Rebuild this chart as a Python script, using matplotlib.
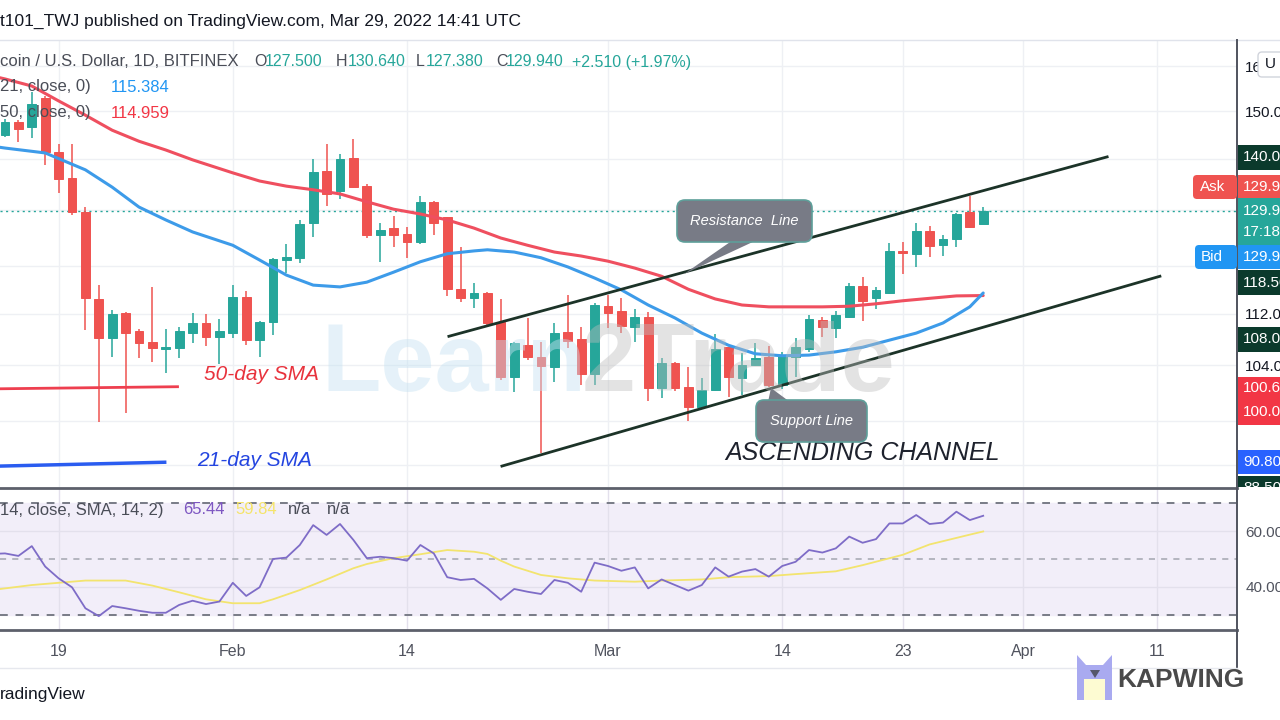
import numpy as np
import pandas as pd
import matplotlib
matplotlib.use("Agg")
import matplotlib.pyplot as plt
import matplotlib.dates as mdates
from matplotlib.patches import FancyBboxPatch, Rectangle, Polygon
from matplotlib.ticker import FixedLocator, FixedFormatter, NullLocator

plt.rcParams['font.family'] = ['Liberation Sans', 'DejaVu Sans']

# ---------------- data ----------------
candle_dates = pd.date_range('2022-01-15', '2022-03-29', freq='D')
opens = [144.9, 147.6, 146.6, 152.8, 141.4, 136.2, 129.7, 114.4, 108.1, 112.1,
         109.2, 107.5, 106.4, 106.6, 108.9, 110.5, 108.3, 108.9, 114.7, 107.8,
         110.7, 121.0, 121.4, 127.6, 137.6, 133.7, 140.2, 134.6, 125.4, 126.7,
         125.6, 124.2, 131.6, 128.7, 116.0, 114.5, 115.4, 110.7, 102.2, 107.0,
         105.2, 103.7, 109.1, 108.0, 102.7, 113.2, 112.4, 109.9, 111.5, 100.6,
         104.3, 100.8, 97.9, 100.3, 106.7, 102.1, 104.0, 105.2, 101.0, 105.2,
         106.4, 111.0, 109.7, 111.5, 116.5, 114.5, 115.4, 122.6, 122.1, 126.2,
         123.6, 124.7, 129.7, 127.5]
highs = [148.2, 148.1, 154.2, 153.2, 143.0, 143.0, 130.6, 116.7, 112.6, 112.3,
         109.5, 116.4, 109.5, 109.9, 112.1, 111.9, 111.1, 116.7, 115.7, 110.8,
         121.3, 123.8, 128.2, 140.0, 143.0, 141.0, 144.1, 135.0, 127.6, 128.9,
         126.9, 132.7, 131.7, 128.8, 123.3, 117.1, 115.5, 114.4, 107.5, 111.3,
         107.5, 110.5, 115.0, 109.9, 113.7, 115.0, 114.5, 112.7, 112.3, 105.1,
         104.5, 103.7, 102.1, 108.8, 106.8, 105.8, 107.4, 106.9, 106.0, 108.1,
         111.8, 111.5, 112.4, 117.1, 118.1, 116.4, 124.0, 124.2, 127.6, 127.1,
         125.4, 129.5, 132.7, 130.64]
lows = [144.5, 143.4, 144.3, 138.8, 133.3, 129.1, 109.4, 95.8, 105.2, 97.05,
        105.1, 104.5, 102.8, 105.1, 107.4, 106.9, 104.2, 108.1, 107.0, 105.2,
        108.6, 118.8, 120.5, 125.1, 130.8, 132.1, 134.3, 124.9, 120.7, 123.3,
        121.4, 123.8, 125.4, 114.9, 113.9, 112.9, 109.9, 101.8, 100.0, 104.8,
        91.6, 101.5, 106.6, 101.0, 101.0, 109.7, 108.9, 107.5, 98.7, 99.2,
        100.2, 95.9, 97.7, 100.2, 99.3, 99.6, 103.9, 100.8, 100.5, 102.2,
        106.0, 108.3, 108.1, 111.3, 110.8, 112.7, 115.2, 118.6, 119.8, 121.5,
        121.7, 123.3, 126.8, 127.38]
closes = [147.6, 146.2, 151.5, 141.4, 136.0, 129.7, 114.5, 108.1, 111.9, 108.9,
          107.4, 106.6, 106.7, 109.2, 110.5, 108.3, 109.2, 114.7, 107.8, 110.7,
          121.2, 121.5, 127.4, 137.4, 133.1, 140.0, 134.4, 125.4, 126.3, 125.4,
          124.2, 131.6, 127.6, 116.0, 114.5, 115.4, 110.5, 102.2, 107.4, 105.2,
          103.9, 108.9, 107.7, 102.7, 113.4, 112.1, 110.0, 111.5, 100.6, 104.3,
          100.6, 97.9, 100.3, 106.4, 102.2, 104.0, 105.1, 101.0, 105.5, 106.7,
          111.1, 109.9, 111.8, 116.5, 114.1, 115.9, 122.6, 122.2, 126.2, 123.5,
          124.7, 129.3, 126.9, 129.94]

sma21_dates = pd.to_datetime([
    '2022-01-14', '2022-01-15', '2022-01-18', '2022-01-21', '2022-01-23', '2022-01-25',
    '2022-01-27', '2022-01-29', '2022-02-01', '2022-02-03', '2022-02-05', '2022-02-07',
    '2022-02-09', '2022-02-11', '2022-02-13', '2022-02-15', '2022-02-17', '2022-02-19',
    '2022-02-20', '2022-02-22', '2022-02-24', '2022-02-26', '2022-02-28', '2022-03-02',
    '2022-03-04', '2022-03-06', '2022-03-08', '2022-03-10', '2022-03-12', '2022-03-14',
    '2022-03-16', '2022-03-18', '2022-03-20', '2022-03-22', '2022-03-24', '2022-03-26',
    '2022-03-28', '2022-03-29'])
sma21_vals = [142.6, 142.2, 141.2, 137.8, 134.4, 130.6, 128.2, 126.0, 123.6, 121.0,
              118.4, 116.7, 116.4, 117.2, 118.9, 120.7, 122.1, 122.6, 122.8, 122.4,
              121.4, 119.8, 117.9, 115.9, 113.4, 111.3, 108.9, 107.0, 105.7, 105.4,
              105.5, 106.0, 106.7, 107.8, 108.9, 110.5, 113.1, 115.384]

sma50_dates = pd.to_datetime([
    '2022-01-14', '2022-01-15', '2022-01-17', '2022-01-19', '2022-01-21', '2022-01-23',
    '2022-01-25', '2022-01-27', '2022-01-29', '2022-02-01', '2022-02-03', '2022-02-05',
    '2022-02-07', '2022-02-09', '2022-02-11', '2022-02-13', '2022-02-15', '2022-02-17',
    '2022-02-19', '2022-02-21', '2022-02-23', '2022-02-25', '2022-02-27', '2022-03-01',
    '2022-03-03', '2022-03-05', '2022-03-07', '2022-03-09', '2022-03-11', '2022-03-13',
    '2022-03-15', '2022-03-17', '2022-03-19', '2022-03-21', '2022-03-23', '2022-03-25',
    '2022-03-27', '2022-03-29'])
sma50_vals = [157.8, 157.1, 155.5, 152.2, 149.1, 145.9, 143.6, 141.8, 139.8, 137.2,
              135.6, 134.6, 133.9, 133.1, 131.6, 130.2, 129.3, 128.2, 126.7, 124.9,
              123.6, 122.4, 121.7, 120.8, 119.6, 118.2, 116.0, 114.4, 113.4, 113.1,
              113.1, 113.1, 113.2, 113.6, 114.1, 114.5, 114.9, 114.959]

rsi_dates = pd.date_range('2022-01-14', '2022-03-29', freq='D')
rsi_vals = [51.8, 52.0, 51.1, 54.6, 47.3, 43.1, 39.9, 32.4, 29.6, 33.2, 32.4,
            31.5, 30.8, 30.8, 33.6, 35.1, 33.9, 34.8, 41.5, 36.8, 39.9,
            50.0, 50.5, 55.0, 62.1, 58.6, 62.5, 56.8, 50.3, 50.8, 50.3,
            49.4, 55.0, 52.0, 43.5, 42.5, 42.9, 39.5, 35.4, 39.3, 38.3,
            37.5, 42.5, 41.5, 38.3, 48.7, 47.5, 45.8, 47.0, 39.5, 42.7,
            40.7, 38.7, 40.7, 47.0, 43.7, 45.5, 46.4, 43.7, 47.5, 49.0,
            53.2, 52.3, 53.8, 58.0, 55.8, 57.1, 62.7, 62.7, 65.7, 62.5,
            63.0, 66.9, 63.9, 65.44]

rsi_ma_dates = pd.to_datetime([
    '2022-01-14', '2022-01-17', '2022-01-19', '2022-01-21', '2022-01-24', '2022-01-26',
    '2022-01-28', '2022-01-30', '2022-02-01', '2022-02-03', '2022-02-04', '2022-02-06',
    '2022-02-08', '2022-02-10', '2022-02-11', '2022-02-13', '2022-02-15', '2022-02-17',
    '2022-02-19', '2022-02-20', '2022-02-21', '2022-02-22', '2022-02-24', '2022-02-26',
    '2022-02-28', '2022-03-03', '2022-03-05', '2022-03-08', '2022-03-10', '2022-03-13',
    '2022-03-15', '2022-03-18', '2022-03-20', '2022-03-23', '2022-03-25', '2022-03-28',
    '2022-03-29'])
rsi_ma_vals = [38.9, 40.7, 41.5, 42.3, 42.3, 40.5, 38.1, 35.6, 34.2, 34.2, 35.6,
               38.9, 42.7, 46.7, 48.2, 50.3, 51.7, 53.2, 52.6, 51.8, 49.4, 47.3,
               44.3, 43.1, 42.3, 41.9, 42.3, 42.7, 43.5, 43.9, 44.6, 45.6, 47.8,
               51.5, 55.2, 58.7, 59.84]

# trend lines drawn on the chart (date, price)
upper_line_dates = pd.to_datetime(['2022-02-17 03:00', '2022-04-07 06:00'])
upper_line_prices = [108.4, 140.4]
lower_line_dates = pd.to_datetime(['2022-02-21 02:00', '2022-04-11 04:30'])
lower_line_prices = [89.9, 118.2]
sma50_mark_dates = pd.to_datetime(['2022-01-14 15:00', '2022-01-27 21:00'])
sma50_mark_prices = [100.5, 100.8]
sma21_mark_dates = pd.to_datetime(['2022-01-14 15:00', '2022-01-26 22:00'])
sma21_mark_prices = [89.9, 90.4]

price_ticks = [160, 150, 140, 130, 120, 112, 104, 96, 90]
price_tick_labels = ['160.000', '150.000', '', '', '', '112.000', '104.000', '', '']
rsi_ticks = [60, 40]
rsi_tick_labels = ['60.00', '40.00']
date_ticks = pd.to_datetime(['2022-01-19', '2022-02-01', '2022-02-14', '2022-03-01',
                             '2022-03-14', '2022-03-23', '2022-04-01', '2022-04-11'])
date_tick_labels = ['19', 'Feb', '14', 'Mar', '14', '23', 'Apr', '11']

# ---------------- figure ----------------
W, H = 1280, 720
fig = plt.figure(figsize=(12.8, 7.2), dpi=100)
fig.patch.set_facecolor('white')

def fy(y):
    return 1 - y / H

GREEN = '#26a69a'
RED = '#ef5350'
GRID = '#eef0f4'
TXT = '#131722'
LBL = '#4a4d57'

ax = fig.add_axes([0, fy(487), 1237 / W, fy(40) - fy(487)])
ax2 = fig.add_axes([0, fy(630), 1237 / W, fy(488) - fy(630)], sharex=ax)

base = mdates.date2num(pd.Timestamp('2022-01-15'))
xlo, xhi = base - 0.373, base + 91.94

# main pane
ax.set_yscale('log')
ax.set_ylim(87.23, 166.17)
ax.set_xlim(xlo, xhi)
ax.set_axisbelow(True)
for s in ax.spines.values():
    s.set_visible(False)
ax.yaxis.set_major_locator(FixedLocator(price_ticks))
ax.yaxis.set_major_formatter(FixedFormatter(price_tick_labels))
ax.yaxis.set_minor_locator(NullLocator())
ax.yaxis.tick_right()
ax.tick_params(axis='y', length=0, pad=6, labelsize=11, labelcolor=TXT)
ax.set_xticks(mdates.date2num(date_ticks))
ax.tick_params(axis='x', length=0, labelbottom=False)
ax.grid(True, color=GRID, lw=1)

x = mdates.date2num(candle_dates)
o = np.array(opens); h = np.array(highs); l = np.array(lows); c = np.array(closes)
cols = np.where(c >= o, GREEN, RED)
ax.vlines(x, l, h, colors=cols, lw=1.1, zorder=3)
ax.bar(x, np.abs(c - o), bottom=np.minimum(o, c), width=0.66, color=cols,
       edgecolor=cols, linewidth=0.7, zorder=4)

ax.plot(mdates.date2num(sma50_dates), sma50_vals, color='#ef4f5f', lw=2.2, zorder=5,
        solid_capstyle='round')
ax.plot(mdates.date2num(sma21_dates), sma21_vals, color='#3d9be9', lw=2.2, zorder=5,
        solid_capstyle='round')
ax.axhline(closes[-1], color=GREEN, ls=(0, (1.5, 2.5)), lw=1, zorder=2)

ax.plot(mdates.date2num(upper_line_dates), upper_line_prices, color='#1c3328', lw=2, zorder=6)
ax.plot(mdates.date2num(lower_line_dates), lower_line_prices, color='#1c3328', lw=2, zorder=6)
ax.plot(mdates.date2num(sma50_mark_dates), sma50_mark_prices, color='#ee3f4f', lw=2, zorder=6)
ax.plot(mdates.date2num(sma21_mark_dates), sma21_mark_prices, color='#2a5cf0', lw=2.5, zorder=6)

# RSI pane
ax2.set_ylim(24.64, 75.36)
ax2.set_xlim(xlo, xhi)
ax2.set_axisbelow(True)
for s in ax2.spines.values():
    s.set_visible(False)
ax2.axhspan(30, 70, color='#f2eef9', zorder=0)
ax2.yaxis.set_major_locator(FixedLocator(rsi_ticks))
ax2.yaxis.set_major_formatter(FixedFormatter(rsi_tick_labels))
ax2.yaxis.tick_right()
ax2.tick_params(axis='y', length=0, pad=6, labelsize=11, labelcolor='#50535e')
ax2.set_xticks(mdates.date2num(date_ticks))
ax2.set_xticklabels(date_tick_labels)
ax2.tick_params(axis='x', length=0, pad=10, labelsize=11.5, labelcolor='#50535e')
ax2.grid(True, color='#e3e0ec', lw=1)
for lev, colr, lw in [(70, '#787b86', 1.4), (30, '#787b86', 1.4), (50, '#a3a6af', 1.1)]:
    ax2.axhline(lev, color=colr, lw=lw, ls=(0, (4, 4)), zorder=1)
ax2.plot(mdates.date2num(rsi_ma_dates), rsi_ma_vals, color='#f3e46e', lw=1.3, zorder=3)
ax2.plot(mdates.date2num(rsi_dates), rsi_vals, color='#7e6cc7', lw=1.3, zorder=4)

# ---------------- overlay (pixel coordinates) ----------------
ov = fig.add_axes([0, 0, 1, 1], zorder=10)
ov.set_xlim(0, W)
ov.set_ylim(H, 0)
ov.axis('off')

# frame lines
ov.plot([0, W], [40, 40], color='#e0e3eb', lw=1)
ov.plot([0, 1237], [487.5, 487.5], color='#5d606b', lw=2)
ov.plot([0, 1237], [630, 630], color='#5d606b', lw=2)
ov.plot([1237, 1237], [40, 668], color='#50535e', lw=1.4)
ov.plot([0, 1237], [668, 668], color='#e6e8ee', lw=1)

# watermark
fig.canvas.draw()
r = fig.canvas.get_renderer()
t1 = ov.text(322, 366, 'Learn', fontsize=70, fontweight='bold', color='#c6e2f2',
             alpha=0.45, va='center', ha='left', zorder=1)
bb = t1.get_window_extent(renderer=r)
ov.text(bb.x1 - 5, 366, '2Trade', fontsize=70, fontweight='bold', color='#bdbdbd',
        alpha=0.42, va='center', ha='left', zorder=1)

# header
ov.text(0, 21, 't101_TWJ published on TradingView.com, Mar 29, 2022 14:41 UTC',
        fontsize=12.5, color=TXT, va='center', ha='left')
ov.text(0, 62, 'coin / U.S. Dollar, 1D, BITFINEX', fontsize=12, color=LBL,
        va='center', ha='left')
for xx, s, colr in [(254, 'O', LBL), (265, '127.500', GREEN), (336, 'H', LBL),
                    (348, '130.640', GREEN), (416, 'L', LBL), (426, '127.380', GREEN),
                    (496, 'C', LBL), (506, '129.940', GREEN), (572, '+2.510 (+1.97%)', GREEN)]:
    ov.text(xx, 62, s, fontsize=11.5, color=colr, va='center', ha='left')
ov.text(0, 87, '21, close, 0)', fontsize=12, color=LBL, va='center', ha='left')
ov.text(111, 87, '115.384', fontsize=12, color='#2196f3', va='center', ha='left')
ov.text(0, 113, '50, close, 0)', fontsize=12, color=LBL, va='center', ha='left')
ov.text(111, 113, '114.959', fontsize=12, color='#f23645', va='center', ha='left')

ov.text(0, 510, '14, close, SMA, 14, 2)', fontsize=12, color=LBL, va='center', ha='left')
ov.text(183, 510, '65.44', fontsize=12, color='#7e57c2', va='center', ha='left')
ov.text(235, 510, '59.84', fontsize=12, color='#f5e46a', va='center', ha='left')
ov.text(288, 510, 'n/a', fontsize=12, color=LBL, va='center', ha='left')
ov.text(327, 510, 'n/a', fontsize=12, color=LBL, va='center', ha='left')

# annotations
ov.text(204, 375, '50-day SMA', fontsize=15, style='italic', color='#e8323c',
        va='center', ha='left', zorder=5)
ov.text(197, 460, '21-day SMA', fontsize=15, style='italic', color='#2445e0',
        va='center', ha='left', zorder=5)
ov.text(725, 453, 'ASCENDING CHANNEL', fontsize=18, style='italic', color='#1e222d',
        va='center', ha='left', zorder=5)

box_fc = '#787b86'
ov.add_patch(Polygon([(733, 240), (757, 240), (684, 274)], closed=True, fc=box_fc,
                     ec='none', zorder=6))
ov.add_patch(FancyBboxPatch((677, 200), 135, 42, boxstyle='round,pad=0,rounding_size=8',
                            fc=box_fc, ec='#5e9f9a', lw=1.2, zorder=7))
ov.text(744, 221, 'Resistance  Line', fontsize=10.5, style='italic', color='white',
        va='center', ha='center', zorder=8)
ov.add_patch(Polygon([(768, 402), (790, 402), (771, 388)], closed=True, fc=box_fc,
                     ec='none', zorder=6))
ov.add_patch(FancyBboxPatch((756, 400), 111, 42, boxstyle='round,pad=0,rounding_size=8',
                            fc=box_fc, ec='#5e9f9a', lw=1.2, zorder=7))
ov.text(811, 421, 'Support Line', fontsize=10.5, style='italic', color='white',
        va='center', ha='center', zorder=8)

# right price-scale tags
def tag(y0, y1, fc, lines):
    rect = Rectangle((1238, y0), W - 1238, y1 - y0, fc=fc, ec='none', zorder=6)
    ov.add_patch(rect)
    for yy, s in lines:
        t = ov.text(1243, yy, s, fontsize=11, color='white', va='center', ha='left', zorder=7)
        t.set_clip_path(rect)

tag(145, 170, '#0b3a2c', [(157, '140.000')])
tag(175, 199, '#ef5350', [(187, '129.960')])
tag(198, 245, GREEN, [(211, '129.940'), (232, '17:18:42')])
tag(245, 269, '#2196f3', [(257, '129.920')])
tag(270, 295, '#0b3a2c', [(283, '118.500')])
tag(327, 352, '#0b3a2c', [(339, '108.000')])
tag(377, 425, '#f23645', [(388, '100.600'), (412, '100.000')])
tag(450, 474, '#2962ff', [(462, '90.800')])
tag(476, 487, '#0b3a2c', [(488, '88.500')])

ov.add_patch(FancyBboxPatch((1193, 175), 44, 24, boxstyle='round,pad=0,rounding_size=4',
                            fc='#ef5350', ec='none', zorder=6))
ov.text(1200, 187, 'Ask', fontsize=11, color='white', va='center', ha='left', zorder=7)
ov.add_patch(FancyBboxPatch((1195, 245), 42, 24, boxstyle='round,pad=0,rounding_size=4',
                            fc='#2196f3', ec='none', zorder=6))
ov.text(1201, 257, 'Bid', fontsize=11, color='white', va='center', ha='left', zorder=7)

ov.add_patch(FancyBboxPatch((1258, 52), 30, 25, boxstyle='round,pad=0,rounding_size=4',
                            fc='white', ec='#d1d4dc', lw=1, zorder=8))
ov.text(1265, 64, 'U', fontsize=11, color=TXT, va='center', ha='left', zorder=9)

# footer
ov.text(0, 694, 'radingView', fontsize=12.5, color=TXT, va='center', ha='left')
ov.add_patch(Polygon([(1077, 700), (1077, 655), (1086, 665), (1103, 665), (1112, 655),
                      (1112, 700)], closed=True, fc='#a9aaf0', ec='none', zorder=6))
ov.add_patch(Rectangle((1084, 679), 21, 21, fc='#fdfbd2', ec='none', zorder=7))
ov.add_patch(Polygon([(1090, 670), (1100, 670), (1095, 678)], closed=True, fc='#55566a',
                     ec='none', zorder=7))
ov.text(1117, 680, 'KAPWING', fontsize=19, fontweight='bold', color='#4a4a4a',
        va='center', ha='left', zorder=7)

fig.savefig('out.png', dpi=100)
